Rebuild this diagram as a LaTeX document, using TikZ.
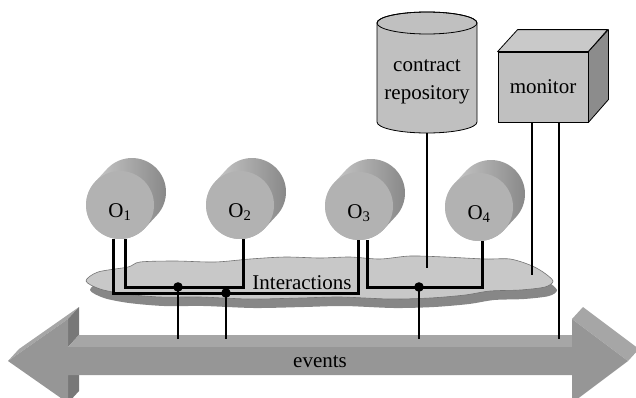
\documentclass[tikz,border=0pt]{standalone}
\usepackage{fontspec}
\setmainfont{Liberation Serif}
\definecolor{arrowfront}{RGB}{150,150,150}
\definecolor{arrowtop}{RGB}{166,166,166}
\definecolor{arrowside}{RGB}{120,120,120}
\definecolor{cloudgray}{RGB}{200,200,200}
\definecolor{shadowgray}{RGB}{135,135,135}
\definecolor{diskgray}{RGB}{178,178,178}
\definecolor{boxgray}{RGB}{192,192,192}
\definecolor{sidegray}{RGB}{140,140,140}
\begin{document}
\begin{tikzpicture}[x=1pt, y=-1pt,
    every node/.style={font=\fontsize{21}{23}\selectfont},
    link/.style={line width=3pt},
    wire/.style={line width=1.6pt},
    obj/.style={circle, fill=diskgray, minimum size=68pt, inner sep=0pt,
        text height=24pt, text depth=0pt}]
    \useasboundingbox (0,0) rectangle (636,397);
    \clip (0,0) rectangle (636,397);

    %画出双向箭头 events
    \fill[arrowtop] (8,361) -- (68,319) -- (79,307) -- (19,349) -- cycle;
    \fill[arrowside] (68,319) -- (79,307) -- (79,335) -- (68,347) -- cycle;
    \fill[arrowside] (68,375) -- (79,363) -- (79,391) -- (68,403) -- cycle;
    \fill[arrowtop] (68,347) -- (79,335) -- (583,335) -- (572,347) -- cycle;
    \fill[arrowtop] (572,319) -- (583,307) -- (639,349) -- (628,361) -- cycle;
    \fill[arrowfront] (8,361) -- (68,319) -- (68,347) -- (572,347) -- (572,319)
        -- (628,361) -- (572,403) -- (572,375) -- (68,375) -- (68,403) -- cycle;
    \node (events) at (320,362) {events};

    %画出云状的 Interactions 区域及其阴影
    \def\cloudpath{plot[smooth cycle] coordinates {(86,281) (98,272) (128,267)
        (140,262) (175,261) (215,262) (250,259) (285,257) (320,258) (350,257)
        (380,259) (410,256) (445,257) (485,259) (510,259) (530,265) (543,272)
        (553,281) (545,287) (520,290) (490,291) (465,295) (430,298) (390,299)
        (340,297) (300,298) (250,299) (200,297) (160,297) (125,294) (100,289)}}
    \fill[shadowgray, shift={(4,9)}] \cloudpath;
    \filldraw[fill=cloudgray, draw=black!55, line width=0.6pt] \cloudpath;

    %画出四个对象 O_1 ... O_4
    \foreach \i/\x/\y in {1/120/205, 2/240/205, 3/359/206, 4/479/207}{
        \shade[left color=diskgray!60!white, right color=diskgray!75!black]
            (\x,\y) ++(43:34) -- ++(12,-13) arc[start angle=43, end angle=-137, radius=34]
            -- ++(-12,13) arc[start angle=-137, end angle=-317, radius=34] -- cycle;
        \node[obj] (o\i) at (\x,\y) {O\textsubscript{\i}};
    }

    %画出 contract repository 圆柱
    \filldraw[fill=boxgray, draw=black, line width=0.8pt] (377,23) -- (377,122)
        arc[start angle=180, end angle=0, x radius=50, y radius=11] -- (477,23)
        arc[start angle=0, end angle=-180, x radius=50, y radius=11] -- cycle;
    \draw[line width=0.8pt] (427,23) ellipse (50 and 11);
    \node[align=center, font=\fontsize{21}{28}\selectfont] (repo) at (427,82)
        {contract\\repository};
    \coordinate (repobot) at (427,133);

    %画出 monitor 立方体
    \node[draw, fill=boxgray, line width=0.8pt, minimum width=90pt, minimum height=70pt]
        (mon) at (543,87) {monitor};
    \filldraw[fill=boxgray!85!white, line width=0.8pt, line join=round]
        (mon.north west) -- ++(20,-22) -- ++(90,0) -- (mon.north east) -- cycle;
    \filldraw[fill=sidegray, line width=0.8pt, line join=round]
        (mon.north east) -- ++(20,-22) -- ++(0,70) -- (mon.south east) -- cycle;

    \node (inter) at (302,283) {Interactions};

    %对象之间的连线
    \draw[link] ([xshift=-7pt]o1.south) -- ++(0,54) -| ([xshift=-1pt]o3.south);
    \draw[link] ([xshift=5pt]o1.south) -- ++(0,48) -| ([xshift=3pt]o2.south);
    \draw[link] ([xshift=8pt]o3.south) -- ++(0,47) -| ([xshift=3pt]o4.south);

    %连接点以及到 events 的竖线
    \coordinate (j1) at (178,287);
    \coordinate (j2) at (226,293);
    \coordinate (j3) at (419,287);
    \coordinate (e1) at (178,339);
    \coordinate (e2) at (226,339);
    \coordinate (e3) at (419,339);
    \coordinate (e4) at (559,339);
    \draw[wire] (j1) -- (e1);
    \draw[wire] (j2) -- (e2);
    \draw[wire] (j3) -- (e3);
    \fill (j1) circle (4.8pt);
    \fill (j2) circle (4.8pt);
    \fill (j3) circle (4.8pt);

    %repository 和 monitor 的连线
    \draw[wire] (repobot) -- (427,268);
    \draw[wire] ([xshift=-11pt]mon.south) -- (532,275);
    \draw[line width=1.3pt] ([xshift=16pt]mon.south) -- (e4);
\end{tikzpicture}
\end{document}
